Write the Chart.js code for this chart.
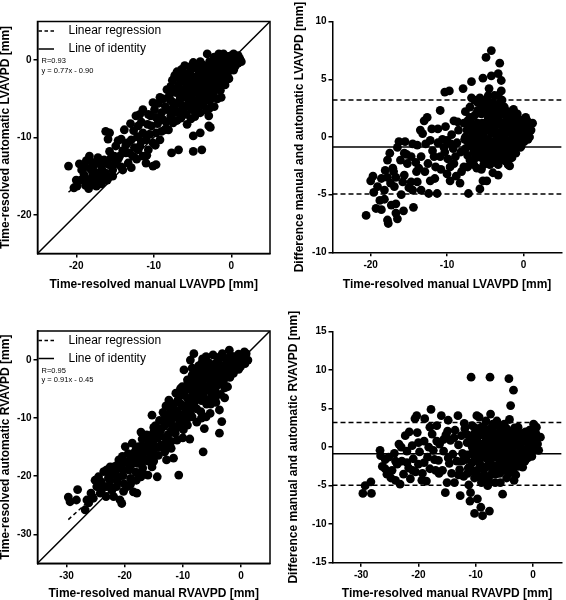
<!DOCTYPE html>
<html>
<head>
<meta charset="utf-8">
<script src="https://cdn.jsdelivr.net/npm/chart.js@4.4.0/dist/chart.umd.min.js"></script>
<style>
  body { margin: 0; background: #fff; width: 566px; height: 600px; overflow: hidden; }
  canvas { position: absolute; }
</style>
</head>
<body>
<canvas id="lvCorr" width="283" height="300" style="left:0;top:0"></canvas>
<canvas id="lvDiff" width="283" height="300" style="left:283px;top:0"></canvas>
<canvas id="rvCorr" width="283" height="300" style="left:0;top:300px"></canvas>
<canvas id="rvDiff" width="283" height="300" style="left:283px;top:300px"></canvas>
<script>
// manual vs automatic LVAVPD [mm]
const lvPoints = [
  [-21.0,-13.7],[-20.3,-16.5],[-19.9,-16.3],[-19.6,-13.4],[-19.3,-14.2],[-19.0,-14.8],[-18.7,-13.0],[-18.5,-15.5],[-18.3,-12.4],[-18.2,-14.0],
  [-18.0,-15.2],[-17.9,-16.0],[-17.7,-13.6],[-17.5,-14.6],[-17.4,-16.3],[-17.2,-12.6],[-17.0,-13.3],[-16.9,-15.0],[-16.7,-14.1],[-16.5,-15.6],
  [-16.4,-12.9],[-16.2,-9.2],[-15.9,-10.2],[-15.7,-9.4],[-15.7,-11.8],[-16.0,-15.5],[-15.8,-13.5],[-15.5,-12.6],[-15.3,-14.2],[-15.1,-12.4],
  [-15.0,-13.4],[-14.9,-11.1],[-14.6,-10.4],[-14.4,-12.4],[-14.2,-13.8],[-14.0,-11.7],[-13.8,-9.0],[-13.6,-12.0],[-13.4,-10.7],[-13.3,-13.3],
  [-12.9,-10.3],[-12.9,-13.9],[-12.7,-12.4],[-12.5,-11.3],[-12.3,-7.2],[-12.1,-9.9],[-12.0,-8.5],[-11.8,-7.0],[-11.8,-11.1],[-11.6,-10.5],
  [-11.4,-6.4],[-11.4,-9.4],[-11.4,-12.4],[-11.0,-10.3],[-11.0,-13.3],[-10.8,-8.3],[-10.7,-11.6],[-10.5,-9.6],[-10.3,-8.5],[-10.1,-5.5],
  [-10.1,-10.7],[-10.1,-13.7],[-9.9,-6.4],[-9.7,-7.4],[-9.7,-9.4],[-9.7,-13.5],[-9.5,-8.2],[-9.2,-10.3],[-9.0,-6.8],[-8.8,-7.7],
  [-8.8,-5.0],[-8.6,-9.0],[-8.3,-3.8],[-8.3,-6.4],[-8.1,-9.0],[-8.0,-4.6],[-7.9,-5.1],[-7.8,-7.2],[-7.7,-12.0],[-7.5,-8.1],
  [-7.3,-2.0],[-7.3,-5.8],[-7.1,-4.2],[-7.0,-6.7],[-6.8,-11.6],[-6.8,-3.2],[-6.6,-2.5],[-6.6,-5.0],[-6.5,-7.5],[-6.4,-1.2],
  [-6.2,-3.8],[-6.2,-6.2],[-6.0,-0.7],[-6.0,-2.8],[-5.9,-4.8],[-5.8,-7.0],[-5.6,-3.4],[-5.5,-5.6],[-5.3,-1.4],[-5.3,-2.5],
  [-5.2,-4.3],[-5.1,-6.4],[-4.9,-0.3],[-4.9,-3.3],[-4.9,-9.8],[-4.9,-11.8],[-4.8,-5.2],[-4.7,-7.3],[-4.6,-2.2],[-4.5,-4.2],
  [-4.4,-6.0],[-4.2,-1.4],[-4.2,-3.2],[-4.1,-5.0],[-4.0,-6.8],[-4.0,-9.4],[-3.9,-2.3],[-3.8,-11.6],[-3.8,-4.1],[-3.7,-0.6],
  [-3.6,-5.8],[-3.5,-1.7],[-3.4,-3.0],[-3.3,-4.6],[-3.2,-6.5],[-3.1,0.8],[-3.1,-2.3],[-3.0,-0.9],[-2.9,-3.7],[-2.9,-7.2],
  [-2.9,-8.5],[-2.8,-5.2],[-2.7,-8.7],[-2.6,-1.6],[-2.5,-2.8],[-2.4,-0.4],[-2.3,-4.3],[-2.2,-6.0],[-2.1,-2.0],[-2.0,-3.3],
  [-1.9,-0.9],[-1.8,0.2],[-1.8,-5.0],[-1.6,0.8],[-1.6,-1.6],[-1.5,-2.7],[-1.4,-3.9],[-1.2,-0.5],[-1.1,-1.4],[-1.0,-2.3],
  [-0.9,0.3],[-0.8,-3.2],[-0.6,-0.8],[-0.5,-1.8],[-0.4,0.5],[-0.2,-0.3],[0.0,0.6],[0.0,-1.2],[0.2,-0.2],[0.4,0.3],
  [0.5,-0.8],[0.7,0.0],[0.9,-0.4],[1.1,0.2],[1.3,-0.2],[-0.3,-2.4],[-1.3,-4.8],[-2.6,-4.9],[-5.7,-8.3],[-7.8,-3.4],
  [-7.6,-2.6],[-7.6,-4.0],[-7.6,-5.4],[-7.6,-6.3],[-7.0,-1.5],[-7.0,-3.6],[-7.0,-5.6],[-7.0,-7.8],[-6.4,-2.0],[-6.4,-4.4],
  [-6.4,-5.8],[-6.4,-6.8],[-5.8,-1.8],[-5.8,-3.0],[-5.8,-4.0],[-5.8,-6.0],[-5.2,-0.8],[-5.2,-2.0],[-5.2,-3.6],[-5.2,-5.0],
  [-5.2,-5.8],[-5.2,-7.6],[-4.6,-1.0],[-4.6,-2.8],[-4.6,-3.6],[-4.6,-5.8],[-4.6,-6.6],[-4.0,-0.2],[-4.0,-1.8],[-4.0,-2.8],
  [-4.0,-4.4],[-4.0,-5.6],[-3.4,-0.8],[-3.4,-2.4],[-3.4,-3.6],[-3.4,-4.0],[-3.4,-5.2],[-2.8,-0.2],[-2.8,-1.2],[-2.8,-2.2],
  [-2.8,-3.0],[-2.8,-4.4],[-2.8,-6.2],[-2.2,0.4],[-2.2,-1.2],[-2.2,-2.6],[-2.2,-3.6],[-1.6,-0.4],[-1.6,-2.2],[-1.6,-3.2],
  [-1.0,0.8],[-1.0,-0.8],[-1.0,-1.8],[-0.4,0.0],[-0.4,-1.2],[0.3,0.8],[0.3,-1.3],[0.9,0.6],[-9.4,-5.6],[-9.0,-9.2],
  [-8.5,-6.0],[-9.8,-11.0],[-8.4,-8.0],[-10.4,-7.2],[-9.2,-4.8],[-13.0,-8.2],[-12.6,-9.1],[-13.2,-12.0],[-12.2,-12.8],[-11.6,-8.0],
  [-10.7,-7.0],[-14.2,-10.2],[-13.6,-11.0],[-12.0,-11.6],[-10.9,-12.3],[-19.4,-15.5],[-18.8,-16.2],[-18.9,-13.8],[-18.0,-13.2],[-17.3,-15.5],
  [-16.6,-13.2],[-17.9,-14.5],[-16.2,-14.6],[-15.3,-15.0],[-16.8,-16.0],[-18.4,-16.6],[-20.0,-15.5],[-14.6,-12.8],[-14.0,-14.2]
];

// manual LVAVPD vs difference manual - automatic [mm]
const lvDiffPoints = [
  [-20.6,-6.8],[-20.0,-3.8],[-19.7,-3.4],[-19.3,-6.2],[-19.1,-4.3],[-18.8,-5.5],[-18.6,-6.3],[-18.6,-3.6],[-18.2,-4.6],[-18.1,-2.9],
  [-17.8,-2.0],[-17.8,-3.5],[-17.8,-7.2],[-17.7,-7.5],[-17.5,-1.4],[-17.4,-4.0],[-17.3,-5.9],[-17.1,-2.7],[-16.9,-4.3],[-16.7,-3.5],
  [-16.7,-5.8],[-16.7,-6.6],[-16.5,-7.1],[-16.5,-0.9],[-16.3,-0.4],[-16.1,-2.0],[-15.8,-3.9],[-15.7,-6.4],[-15.6,-1.4],[-15.6,-3.3],
  [-15.5,-0.4],[-15.2,-2.3],[-15.0,-4.4],[-14.7,-1.7],[-14.7,-3.9],[-14.5,-0.6],[-14.5,-4.6],[-14.4,-6.1],[-14.1,-2.2],[-13.9,-3.9],
  [-13.9,-0.7],[-13.7,-2.7],[-13.4,-1.7],[-13.2,0.3],[-13.0,1.4],[-12.8,-0.6],[-12.6,1.7],[-12.5,-2.3],[-12.4,-4.9],[-12.2,-3.8],
  [-12.2,-0.3],[-11.9,-1.2],[-11.7,-1.7],[-11.5,-2.6],[-11.3,-4.9],[-11.2,0.7],[-10.9,2.3],[-10.9,-1.7],[-10.6,-0.2],[-10.4,-0.9],
  [-10.3,3.9],[-10.2,0.9],[-10.0,-0.3],[-10.0,-3.2],[-9.9,-1.9],[-9.7,4.0],[-9.6,-3.8],[-9.4,0.2],[-9.2,-1.0],[-9.1,-2.3],
  [-9.1,1.4],[-8.9,-1.7],[-8.7,-0.5],[-8.5,0.6],[-8.3,-4.0],[-8.2,-1.3],[-8.1,-3.0],[-7.9,4.2],[-7.8,1.2],[-7.8,-2.6],
  [-7.7,-0.2],[-7.4,0.6],[-7.3,-1.6],[-7.2,-4.9],[-7.0,1.7],[-7.0,-0.8],[-6.8,4.8],[-6.8,-2.2],[-6.6,0.2],[-6.5,-1.3],
  [-6.3,1.0],[-6.2,-0.3],[-6.1,-2.7],[-6.0,2.3],[-5.9,-1.7],[-5.8,0.5],[-5.7,-4.5],[-5.6,-0.8],[-5.5,2.0],[-5.4,1.2],
  [-5.3,-3.8],[-5.3,5.1],[-5.2,-0.1],[-5.1,-2.0],[-5.0,3.2],[-4.9,6.9],[-4.9,0.8],[-4.8,-3.8],[-4.8,-1.1],[-4.6,3.6],
  [-4.6,1.7],[-4.5,-0.4],[-4.4,-2.4],[-4.2,7.5],[-4.2,5.3],[-4.2,0.3],[-4.1,2.5],[-4.0,-1.4],[-3.9,1.2],[-3.8,3.6],
  [-3.7,-0.6],[-3.6,-2.0],[-3.5,2.0],[-3.4,0.4],[-3.3,5.5],[-3.3,-3.3],[-3.2,-1.1],[-3.1,6.4],[-3.1,1.3],[-3.0,3.0],
  [-2.9,4.9],[-2.9,4.0],[-2.8,-0.2],[-2.7,-0.9],[-2.6,2.0],[-2.5,0.8],[-2.4,-1.6],[-2.3,1.4],[-2.2,-0.5],[-2.0,-2.4],
  [-1.9,0.5],[-1.8,1.8],[-1.7,-1.2],[-1.5,1.0],[-1.4,0.0],[-1.2,1.6],[-1.1,-0.7],[-0.9,1.7],[-0.9,0.4],[-0.7,-0.3],
  [-0.5,0.9],[-0.4,-0.9],[-0.2,0.2],[-0.1,1.2],[0.1,-0.4],[0.3,1.7],[0.4,0.5],[0.6,-0.2],[0.8,1.2],[1.0,0.6],
  [1.2,1.2],[-6.4,3.2],[-4.0,-3.1],[-2.3,-2.1],[-1.8,-2.5],
  [-7.6,0.0],[-7.6,-1.0],[-7.6,2.2],[-7.0,0.8],[-7.0,-2.0],[-7.0,2.6],[-6.5,1.8],[-6.5,-0.6],[-6.5,-2.4],[-6.0,0.0],
  [-6.0,1.2],[-6.0,-1.2],[-6.0,3.0],[-5.5,-0.6],[-5.5,2.8],[-5.5,-1.8],[-5.5,-2.8],[-5.0,2.2],[-5.0,1.0],[-5.0,-0.5],
  [-5.0,-1.5],[-4.5,2.6],[-4.5,0.9],[-4.5,-1.0],[-4.5,4.2],[-4.0,1.5],[-4.0,0.4],[-4.0,-0.8],[-4.0,3.0],[-4.0,-2.2],
  [-3.5,2.7],[-3.5,1.1],[-3.5,-0.1],[-3.5,-1.4],[-3.0,2.2],[-3.0,0.4],[-3.0,-0.6],[-3.0,-2.0],[-2.5,2.6],[-2.5,1.2],
  [-2.5,0.0],[-2.5,-1.0],[-2.0,1.0],[-2.0,2.2],[-2.0,-0.3],[-2.0,-1.4],[-1.5,1.8],[-1.5,0.3],[-1.5,-0.6],[-1.5,-1.8],
  [-1.0,1.0],[-1.0,-0.1],[-1.0,-1.4],[-0.5,1.5],[-0.5,0.3],[-0.5,-0.4],[0.2,0.8],[0.2,0.0],[0.2,1.2],[0.8,0.0],
  [-10.8,-2.8],[-11.6,-3.6],[-12.9,-3.0],[-13.4,-4.6],[-9.6,-2.6],[-8.8,-3.4],[-10.3,-1.3],[-12.0,0.7],[-11.2,-0.5],[-8.6,1.3],
  [-9.5,-0.6],[-18.2,-5.4],[-17.0,-3.0],[-16.0,-5.0],[-19.6,-4.8],[-15.3,-1.5],[-14.0,-3.0],[-13.5,0.6],
  [-7.3,1.4],[-7.3,-0.4],[-7.3,-2.6],[-6.8,0.0],[-6.8,1.2],[-6.8,3.4],[-6.2,2.0],[-6.2,-1.8],[-6.2,0.6],[-5.7,1.0],
  [-5.7,-1.2],[-5.7,3.4],[-5.2,0.4],[-5.2,2.6],[-5.2,-2.4],[-4.7,1.4],[-4.7,-0.2],[-4.7,-2.0],[-4.7,3.0],[-4.3,-0.4],
  [-4.3,2.0],[-4.3,-1.6],[-3.8,0.8],[-3.8,2.2],[-3.8,-1.2],[-3.3,1.6],[-3.3,-0.4],[-3.3,3.6],[-3.3,-2.4],[-2.8,1.0],
  [-2.8,-1.6],[-2.8,3.2],[-2.3,0.4],[-2.3,2.0],[-2.3,-0.6],[-1.8,-0.8],[-1.8,1.2],[-1.3,0.6],[-1.3,2.4],[-1.3,-1.2],
  [-0.8,0.0],[-0.8,2.0],[-0.3,1.0],[-0.3,-0.8],[0.5,0.4],[0.5,1.4]
];

// manual vs automatic RVAVPD [mm]
const rvPoints = [
  [-29.7,-23.6],[-29.4,-24.4],[-28.3,-24.1],[-28.1,-22.3],[-26.8,-25.8],[-26.5,-24.1],[-26.2,-24.6],[-25.8,-22.9],[-25.4,-23.8],[-25.1,-20.7],
  [-24.8,-21.8],[-24.5,-20.1],[-24.2,-22.9],[-23.9,-21.8],[-23.6,-19.2],[-23.2,-23.5],[-23.1,-21.8],[-23.1,-18.9],[-22.8,-20.3],[-22.5,-20.7],
  [-22.2,-22.4],[-21.9,-18.4],[-21.9,-23.5],[-21.6,-19.5],[-21.3,-20.8],[-21.0,-17.2],[-20.8,-24.1],[-20.7,-18.6],[-20.5,-24.7],[-20.4,-16.6],
  [-20.3,-19.9],[-20.1,-21.3],[-19.8,-17.6],[-19.6,-21.8],[-19.4,-16.1],[-19.2,-18.9],[-19.0,-20.4],[-18.7,-14.3],[-18.6,-17.3],[-18.5,-22.7],
  [-18.3,-15.9],[-18.1,-19.3],[-17.9,-22.9],[-17.8,-17.8],[-17.6,-14.9],[-17.4,-16.7],[-17.2,-20.1],[-17.0,-13.6],[-16.9,-18.6],[-16.6,-15.7],
  [-16.4,-17.2],[-16.2,-12.9],[-16.0,-19.8],[-15.9,-14.4],[-15.6,-16.3],[-15.3,-9.5],[-15.3,-18.4],[-15.1,-12.6],[-14.9,-14.9],[-14.7,-11.3],
  [-14.4,-20.1],[-14.4,-13.4],[-14.2,-16.4],[-14.0,-10.4],[-13.8,-12.0],[-13.6,-14.6],[-13.4,-9.0],[-13.2,-11.4],[-13.1,-15.8],[-12.9,-7.9],
  [-12.8,-17.2],[-12.7,-10.1],[-12.5,-12.8],[-12.4,-6.9],[-12.2,-9.0],[-12.0,-14.0],[-11.9,-11.2],[-11.7,-7.8],[-11.5,-9.9],[-11.3,-12.6],
  [-11.2,-5.7],[-11.0,-8.7],[-10.8,-6.8],[-10.7,-19.8],[-10.6,-10.9],[-10.4,-4.9],[-10.3,-7.6],[-10.1,-9.4],[-10.1,-4.6],[-9.9,-12.0],
  [-9.8,-1.7],[-9.7,-6.1],[-9.5,-8.4],[-9.3,-10.2],[-9.2,-3.4],[-9.1,-5.0],[-8.9,-7.2],[-8.7,0.0],[-8.7,-9.2],[-8.5,-3.9],
  [-8.4,-1.4],[-8.3,-5.9],[-8.1,1.1],[-8.0,-8.0],[-7.9,-2.8],[-7.7,-4.6],[-7.6,-10.7],[-7.5,-6.7],[-7.3,-1.0],[-7.2,-3.4],
  [-7.0,-5.4],[-6.9,-8.9],[-6.8,-2.2],[-6.6,0.2],[-6.5,-4.2],[-6.4,-6.4],[-6.3,-11.8],[-6.1,-1.4],[-6.0,-3.1],[-5.9,-7.6],
  [-5.8,-5.2],[-5.6,-0.4],[-5.5,-2.4],[-5.3,-9.2],[-5.2,-4.1],[-5.0,-6.3],[-4.9,-1.3],[-4.8,0.9],[-4.6,-3.2],[-4.5,-5.2],
  [-4.3,-7.3],[-4.2,-1.9],[-4.0,-4.3],[-3.9,0.0],[-3.7,-8.6],[-3.7,-12.6],[-3.6,-2.7],[-3.5,-5.9],[-3.3,-10.6],[-3.2,1.1],
  [-3.1,-1.0],[-3.0,-3.6],[-2.8,-6.5],[-2.7,0.3],[-2.5,-2.2],[-2.3,-4.6],[-2.1,-0.6],[-2.0,1.7],[-1.9,-3.0],[-1.7,-1.5],
  [-1.5,0.6],[-1.3,-2.3],[-1.1,-0.6],[-0.9,-1.6],[-0.7,0.5],[-0.5,-0.6],[-0.3,0.2],[-0.1,-1.2],[0.1,0.8],[0.3,-0.3],
  [0.5,0.4],[0.7,-0.6],[0.9,1.1],[1.2,0.0],[-17.2,-12.4],[-19.9,-14.9],[-22.5,-18.4],[-8.8,-13.6],[-6.0,-9.8],[-11.6,-16.9],
  [-6.5,-15.8],
  [-24.0,-21.0],[-24.0,-22.4],[-22.6,-19.6],[-22.6,-21.6],[-21.4,-18.2],[-21.4,-21.8],[-21.4,-19.9],[-20.2,-17.6],[-20.2,-18.9],[-20.2,-22.6],
  [-19.0,-16.6],[-19.0,-18.2],[-19.0,-21.4],[-18.0,-15.2],[-18.0,-16.6],[-18.0,-20.7],[-17.0,-14.8],[-17.0,-16.0],[-17.0,-17.4],[-17.0,-19.2],
  [-16.0,-13.4],[-16.0,-15.3],[-16.0,-17.4],[-15.0,-11.6],[-15.0,-13.8],[-15.0,-16.0],[-15.0,-17.4],[-14.0,-11.8],[-14.0,-13.0],[-14.0,-15.0],
  [-13.0,-9.8],[-13.0,-11.0],[-13.0,-13.4],[-13.0,-14.6],[-12.0,-8.0],[-12.0,-10.2],[-12.0,-12.4],[-12.0,-15.2],[-11.0,-7.2],[-11.0,-9.8],
  [-11.0,-11.6],[-11.0,-13.8],[-10.0,-5.8],[-10.0,-8.0],[-10.0,-10.6],[-10.0,-13.4],[-9.2,-4.2],[-9.2,-6.6],[-9.2,-8.0],[-9.2,-11.2],
  [-8.4,-2.6],[-8.4,-4.8],[-8.4,-7.2],[-8.4,-9.8],[-7.6,-1.8],[-7.6,-4.0],[-7.6,-6.0],[-7.6,-8.4],[-6.8,-0.6],[-6.8,-3.0],
  [-6.8,-5.0],[-6.8,-7.0],[-6.8,-10.0],[-6.0,0.6],[-6.0,-2.2],[-6.0,-4.6],[-6.0,-6.8],[-5.2,-1.0],[-5.2,-3.0],[-5.2,-5.4],
  [-5.2,-7.6],[-4.4,-0.6],[-4.4,-2.4],[-4.4,-4.8],[-4.4,-6.4],[-3.6,0.6],[-3.6,-1.4],[-3.6,-3.8],[-2.8,-1.6],[-2.8,-3.0],
  [-2.8,-4.8],[-2.0,0.4],[-2.0,-2.2],[-1.2,0.6],[-1.2,-1.2],[-0.4,1.0],[-0.4,-1.6],[0.6,0.0],[0.6,1.4]
];

// manual RVAVPD vs difference manual - automatic [mm]
const rvDiffPoints = [
  [-29.7,-6.0],[-29.3,-5.0],[-28.3,-4.5],[-28.2,-6.0],[-26.7,-0.4],[-26.6,-1.1],[-26.3,-2.5],[-25.8,-1.6],[-25.5,-3.5],[-25.2,-1.3],
  [-24.8,-4.0],[-24.6,-3.0],[-24.2,-0.8],[-24.0,-4.3],[-23.7,-2.2],[-23.4,0.4],[-23.2,-4.8],[-22.9,-1.8],[-22.6,-3.5],[-22.3,1.5],
  [-22.0,-0.5],[-21.7,-2.7],[-21.4,-4.1],[-21.1,0.2],[-20.9,-1.5],[-20.6,3.7],[-20.5,-3.2],[-20.3,4.1],[-20.2,1.9],[-20.0,-2.2],
  [-19.8,-0.6],[-19.4,-4.3],[-19.3,-3.4],[-19.0,0.8],[-18.9,3.7],[-18.6,-4.4],[-18.4,-1.3],[-18.0,-2.8],[-17.8,4.9],[-17.6,1.7],
  [-17.4,-0.4],[-17.0,-3.0],[-16.8,2.8],[-16.5,-1.7],[-16.3,0.4],[-16.0,4.1],[-15.8,-3.0],[-15.6,-0.5],[-15.3,-5.9],[-15.2,1.6],
  [-15.0,-4.6],[-14.8,3.5],[-14.6,-2.1],[-14.4,0.9],[-14.2,-3.4],[-14.0,-0.9],[-13.7,-4.6],[-13.6,2.2],[-13.3,-1.8],[-13.1,4.1],
  [-13.0,0.3],[-12.8,-2.9],[-12.7,-6.3],[-12.5,1.5],[-12.3,-0.8],[-12.1,-3.8],[-11.9,2.4],[-11.7,-1.6],[-11.5,0.6],[-11.3,-2.7],
  [-11.2,-4.9],[-11.0,-7.0],[-10.9,-5.9],[-10.8,9.1],[-10.7,1.4],[-10.5,-0.6],[-10.3,-3.2],[-10.2,-8.6],[-10.1,2.5],[-9.9,-1.6],
  [-9.7,-6.7],[-9.6,0.5],[-9.4,3.9],[-9.4,-3.9],[-9.2,-2.3],[-9.1,-7.8],[-9.0,1.6],[-8.8,-8.9],[-8.8,-0.7],[-8.6,-2.9],
  [-8.4,2.4],[-8.2,0.2],[-8.1,-4.3],[-7.9,-5.0],[-7.9,-1.6],[-7.7,1.1],[-7.6,-8.3],[-7.5,9.1],[-7.4,4.3],[-7.3,-0.4],
  [-7.1,-2.6],[-7.0,2.0],[-6.8,0.3],[-6.6,-1.3],[-6.5,-3.5],[-6.3,3.4],[-6.1,1.2],[-6.0,-0.6],[-5.8,-2.3],[-5.7,-4.6],
  [-5.5,0.8],[-5.3,-6.1],[-5.3,2.4],[-5.1,-1.2],[-4.9,-3.0],[-4.7,0.0],[-4.5,1.9],[-4.3,-2.0],[-4.2,8.9],[-4.1,3.6],
  [-3.9,5.4],[-3.9,-0.8],[-3.7,1.0],[-3.5,-3.0],[-3.4,7.4],[-3.3,-4.3],[-3.2,2.5],[-3.0,-1.6],[-2.8,0.4],[-2.6,-2.5],
  [-2.4,1.6],[-2.2,-0.6],[-2.0,-1.9],[-1.8,0.9],[-1.6,-1.0],[-1.3,2.0],[-1.1,-0.3],[-0.9,-1.4],[-0.6,1.2],[-0.4,-0.6],
  [-0.2,0.9],[0.1,3.0],[0.2,-0.4],[0.5,1.8],[0.8,0.4],[1.0,-0.4],[1.3,1.3],[-9.8,4.1],[-12.0,3.1],[-14.9,2.1],
  [-11.4,-1.0],[-11.4,1.6],[-11.4,-3.4],[-10.6,0.0],[-10.6,-2.0],[-10.6,2.8],[-9.8,-0.8],[-9.8,1.0],[-9.8,-3.0],[-9.0,0.4],
  [-9.0,-1.4],[-9.0,2.6],[-9.0,-4.6],[-8.2,1.2],[-8.2,-0.8],[-8.2,-2.6],[-8.2,3.4],[-7.4,-1.6],[-7.4,0.6],[-7.4,2.4],
  [-7.4,-3.6],[-6.6,-0.2],[-6.6,1.6],[-6.6,-2.4],[-6.6,-4.6],[-5.8,0.2],[-5.8,2.0],[-5.8,-1.6],[-5.8,-3.4],[-5.0,1.0],
  [-5.0,-0.4],[-5.0,-2.4],[-5.0,3.0],[-4.2,0.2],[-4.2,1.6],[-4.2,-1.2],[-4.2,-3.4],[-3.4,-0.6],[-3.4,0.8],[-3.4,-2.0],
  [-3.4,2.2],[-2.6,1.2],[-2.6,-1.0],[-2.6,2.6],[-1.8,-0.4],[-1.8,1.8],[-1.8,-2.6],[-1.0,0.6],[-1.0,1.6],[-0.2,1.6],
  [-0.2,-1.2],[-0.2,0.0],[0.6,0.6],[0.6,2.6],[-22.0,-2.0],[-21.0,-3.0],[-20.0,0.6],[-19.0,-2.0],[-18.2,0.0],[-17.2,-1.6],
  [-16.4,-3.4],[-15.6,1.0],[-14.8,-1.4],[-13.8,1.2],[-13.0,-3.6],[-12.4,-1.8],[-18.0,2.6],[-24.0,-1.8],[-23.0,0.0],[-25.8,-2.8],
  [-21.6,2.0],[-16.8,0.8],
  [-11.0,0.8],[-11.0,-2.6],[-10.2,-1.2],[-10.2,1.8],[-10.2,-4.0],[-9.4,0.0],[-9.4,-2.0],[-9.4,2.0],[-8.6,-0.4],[-8.6,1.6],
  [-8.6,-3.6],[-7.8,0.2],[-7.8,-2.4],[-7.8,1.8],[-7.8,-4.2],[-7.0,-0.8],[-7.0,1.0],[-7.0,-3.0],[-7.0,3.0],[-6.2,-1.0],
  [-6.2,0.8],[-6.2,2.8],[-6.2,-3.0],[-5.4,-0.6],[-5.4,1.4],[-5.4,-2.8],[-4.6,-1.8],[-4.6,0.8],[-4.6,2.4],[-4.6,-4.0],
  [-3.8,-1.4],[-3.8,0.0],[-3.8,1.4],[-3.8,-2.8],[-3.0,0.2],[-3.0,-1.0],[-3.0,1.6],[-3.0,-3.6],[-2.2,0.2],[-2.2,-1.6],
  [-2.2,1.0],[-1.4,1.0],[-1.4,-0.6],[-1.4,-1.8],[-0.6,0.4],[-0.6,-0.4],[-0.6,2.2],[0.2,1.0],[0.2,2.0]
];

// regression: [R, slope, intercept], fitted x-span
const lvFit = [0.93, 0.77, -0.90];
const rvFit = [0.95, 0.91, -0.45];
const lvFitSpan = [-21.0, 1.3];
const rvFitSpan = [-29.7, 1.2];

// Bland-Altman: [bias, upper limit, lower limit]
const lvLimits = [-0.87, 3.2, -4.94];
const rvLimits = [-0.86, 3.2, -4.95];

// axis ranges and tick labels
const lvRange = [-25, 5];
const rvRange = [-35, 5];
const lvDiffRange = [-10, 10];
const rvDiffRange = [-15, 15];
const lvTicks = [-20, -10, 0];
const rvTicks = [-30, -20, -10, 0];
const lvDiffTicks = [-10, -5, 0, 5, 10];
const rvDiffTicks = [-15, -10, -5, 0, 5, 10, 15];

const FONT = "'Liberation Sans', Arial, Helvetica, sans-serif";

const framePlugin = {
  id: "frame",
  afterDatasetsDraw(chart, args, opts) {
    if (!opts.show) return;
    const a = chart.chartArea;
    const ctx = chart.ctx;
    ctx.save();
    ctx.strokeStyle = "#000";
    ctx.lineWidth = 1.5;
    ctx.strokeRect(a.left, a.top, a.right - a.left, a.bottom - a.top);
    ctx.restore();
  }
};

const fitLegendPlugin = {
  id: "fitLegend",
  afterDraw(chart, args, opts) {
    if (!opts.fit) return;
    const a = chart.chartArea;
    const ctx = chart.ctx;
    const items = [
      { text: "Linear regression", dash: [3.5, 2.5], y: 9.5 },
      { text: "Line of identity", dash: [], y: 27.5 }
    ];
    ctx.save();
    ctx.fillStyle = "#000";
    ctx.strokeStyle = "#000";
    ctx.lineWidth = 1.5;
    ctx.textBaseline = "middle";
    ctx.font = "12px " + FONT;
    items.forEach(item => {
      ctx.setLineDash(item.dash);
      ctx.beginPath();
      ctx.moveTo(a.left + 1, a.top + item.y);
      ctx.lineTo(a.left + 16.5, a.top + item.y);
      ctx.stroke();
      ctx.fillText(item.text, a.left + 31, a.top + item.y);
    });
    ctx.font = "7.5px " + FONT;
    const f = opts.fit;
    const sign = f[2] < 0 ? " - " : " + ";
    ctx.fillText("R=" + f[0].toFixed(2), a.left + 4, a.top + 39.5);
    ctx.fillText("y = " + f[1].toFixed(2) + "x" + sign + Math.abs(f[2]).toFixed(2), a.left + 4, a.top + 49);
    ctx.restore();
  }
};

function buildAxis(position, range, ticks, size, title, titlePad) {
  return {
    type: "linear",
    position: position,
    min: range[0],
    max: range[1],
    afterBuildTicks: function(scale) {
      scale.ticks = ticks.map(v => ({ value: v }));
    },
    afterFit: function(scale) {
      if (position === "left") scale.width = size;
      else scale.height = size;
    },
    ticks: {
      color: "#000",
      padding: position === "left" ? 2 : 3,
      maxRotation: 0,
      font: { family: FONT, size: 10, weight: "bold" }
    },
    grid: {
      drawOnChartArea: false,
      drawTicks: true,
      tickLength: 4,
      color: "#000",
      lineWidth: 1.5
    },
    border: { display: true, color: "#000", width: 1.5 },
    title: {
      display: true,
      text: title,
      color: "#000",
      font: { family: FONT, size: 12, weight: "bold", lineHeight: 1 },
      padding: position === "left" ? { top: titlePad, bottom: 0 } : { top: 0, bottom: titlePad }
    }
  };
}

function pointSet(points) {
  return {
    data: points.map(p => ({ x: p[0], y: p[1] })),
    backgroundColor: "#000",
    borderWidth: 0,
    pointRadius: 4.4,
    order: 0
  };
}

function lineSet(data, dash, order) {
  return {
    data: data,
    showLine: true,
    borderColor: "#000",
    borderWidth: 1.5,
    borderDash: dash,
    pointRadius: 0,
    order: order
  };
}

function makeCorrChart(id, points, fit, span, range, ticks, pad, xTitle, yTitle, xSize, xTitlePad) {
  const ctx = document.getElementById(id).getContext("2d");
  return new Chart(ctx, {
    type: "scatter",
    data: {
      datasets: [
        pointSet(points),
        lineSet([{ x: range[0], y: range[0] }, { x: range[1], y: range[1] }], [], 1),
        lineSet(span.map(x => ({ x: x, y: fit[1] * x + fit[2] })), [4, 3], 2)
      ]
    },
    options: {
      responsive: false,
      animation: false,
      events: [],
      layout: { padding: pad },
      plugins: {
        legend: { display: false },
        tooltip: { enabled: false },
        frame: { show: true },
        fitLegend: { fit: fit }
      },
      scales: {
        x: buildAxis("bottom", range, ticks, xSize, xTitle, xTitlePad),
        y: buildAxis("left", range, ticks, 37.5, yTitle, 0)
      }
    },
    plugins: [framePlugin, fitLegendPlugin]
  });
}

function makeDiffChart(id, points, limits, xRange, xTicks, yRange, yTicks, pad, xTitle, yTitle, xSize, xTitlePad, yTitlePad) {
  const ctx = document.getElementById(id).getContext("2d");
  return new Chart(ctx, {
    type: "scatter",
    data: {
      datasets: [
        pointSet(points),
        lineSet(xRange.map(x => ({ x: x, y: limits[0] })), [], 1),
        lineSet(xRange.map(x => ({ x: x, y: limits[1] })), [5, 3], 2),
        lineSet(xRange.map(x => ({ x: x, y: limits[2] })), [5, 3], 3)
      ]
    },
    options: {
      responsive: false,
      animation: false,
      events: [],
      layout: { padding: pad },
      plugins: {
        legend: { display: false },
        tooltip: { enabled: false }
      },
      scales: {
        x: buildAxis("bottom", xRange, xTicks, xSize, xTitle, xTitlePad),
        y: buildAxis("left", yRange, yTicks, 49.5, yTitle, yTitlePad)
      }
    }
  });
}

makeCorrChart("lvCorr", lvPoints, lvFit, lvFitSpan, lvRange, lvTicks,
  { top: 21.5, right: 13, left: 0, bottom: 0 },
  "Time-resolved manual LVAVPD [mm]", "Time-resolved automatic LVAVPD [mm]", 46.5, 9);

makeDiffChart("lvDiff", lvDiffPoints, lvLimits, lvRange, lvTicks, lvDiffRange, lvDiffTicks,
  { top: 21.7, right: 0, left: 0, bottom: 0 },
  "Time-resolved manual LVAVPD [mm]", "Difference manual and automatic LVAVPD [mm]", 47.7, 9, 11);

makeCorrChart("rvCorr", rvPoints, rvFit, rvFitSpan, rvRange, rvTicks,
  { top: 31, right: 13, left: 0, bottom: 0 },
  "Time-resolved manual RVAVPD [mm]", "Time-resolved automatic RVAVPD [mm]", 36.7, 0);

makeDiffChart("rvDiff", rvDiffPoints, rvLimits, rvRange, rvTicks, rvDiffRange, rvDiffTicks,
  { top: 31.7, right: 1, left: 0, bottom: 0 },
  "Time-resolved manual RVAVPD [mm]", "Difference manual and automatic RVAVPD [mm]", 37.3, 0, 5);
</script>
</body>
</html>
